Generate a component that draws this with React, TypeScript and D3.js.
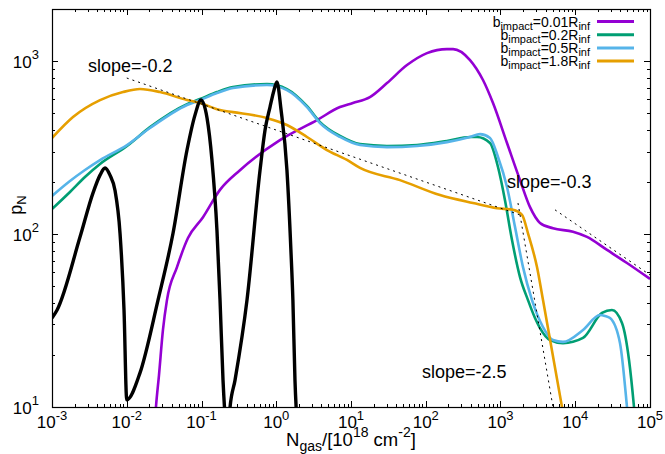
import * as d3 from "d3";

type Pt = [number, number];

const X_DOMAIN: [number, number] = [1e-3, 1e5];
const Y_DOMAIN: [number, number] = [10, 2000];
const X_DECADES = [-3, -2, -1, 0, 1, 2, 3, 4, 5];
const Y_DECADES = [1, 2, 3];
const MINOR_MULTS = [2, 3, 4, 5, 6, 7, 8, 9];

const SERIES_LABELS = ["0.01", "0.2", "0.5", "1.8"];
const SERIES_COLORS = ["#9400d3", "#009e73", "#56b4e9", "#e69f00"];

// b_impact = 0.01 R_inf
const purpleCurve: Pt[] = [
  [0.0239, 8.4], [0.0246, 10], [0.027, 15.3], [0.0305, 27.9], [0.0345, 41.5],
  [0.047, 64.4], [0.0659, 94.8], [0.1047, 125], [0.1766, 180], [0.327, 234],
  [1.12, 349], [3.51, 456], [7.12, 542], [10.6, 572], [17.9, 619], [30.3, 746],
  [56.1, 948], [104, 1112], [192, 1173], [232, 1173], [391, 1014], [583, 777],
  [794, 572], [1222, 336], [1824, 205], [2483, 143], [3377, 116], [5037, 108],
  [9330, 103], [14360, 96.2], [26600, 80.9], [49200, 68], [1e5, 55],
];

// b_impact = 0.2 R_inf
const greenCurve: Pt[] = [
  [1e-3, 139.5], [1.74e-3, 175], [2.76e-3, 213.5], [4.39e-3, 254], [0.01008, 323],
  [0.02047, 415], [0.064, 564], [0.0955, 603], [0.161, 662], [0.264, 707],
  [0.752, 736], [1.39, 689], [2.58, 549], [3.85, 444], [7.13, 369], [13.2, 331],
  [30.3, 323], [76.4, 327], [192, 345], [391, 364], [485, 364], [724, 336],
  [926, 244], [1148, 157], [1425, 92.3], [1824, 56.4], [2333, 41.5], [2894, 32.7],
  [3376, 28.6], [4594, 24.4], [6857, 23.4], [12700, 25.1], [22800, 35],
  [31000, 36.4], [42200, 30.6], [52400, 18.7], [61100, 10], [65000, 7.4],
];

// b_impact = 0.5 R_inf
const blueCurve: Pt[] = [
  [1e-3, 165.9], [1.74e-3, 202.5], [2.76e-3, 234.5], [4.39e-3, 267.7], [0.01008, 326.9],
  [0.02047, 410], [0.064, 557], [0.0955, 595], [0.161, 653], [0.264, 698],
  [0.752, 727], [1.39, 680], [2.58, 542], [3.85, 438], [7.13, 364], [13.2, 327],
  [30.3, 318], [76.4, 323], [192, 340], [391, 364], [532, 378], [724, 359],
  [926, 279], [1222, 187], [1563, 110], [2000, 64.4], [2639, 41.5], [3703, 29],
  [5039, 24.4], [6857, 23.8], [12700, 27.9], [21400, 34], [25000, 33.6],
  [29200, 32.7], [39700, 23.4], [49200, 10], [52400, 7.4],
];

// b_impact = 1.8 R_inf
const orangeCurve: Pt[] = [
  [1e-3, 359], [1.91e-3, 475], [4.39e-3, 595], [8.91e-3, 662], [0.01504, 689],
  [0.02785, 662], [0.064, 595], [0.0955, 572], [0.1766, 521], [0.264, 507],
  [0.752, 468], [1.39, 427], [2.58, 364], [4.77, 306], [8.84, 268], [13.2, 241],
  [45.2, 205], [155, 168], [429, 151], [898, 141], [1470, 138], [1940, 129],
  [2333, 101], [3078, 64.4], [3703, 41.5], [6648, 10], [7300, 7.9],
];

// narrow black peaks
const blackCurve: Pt[] = [
  [1e-3, 32.7], [1.17e-3, 36.4], [2.37e-3, 96], [3.54e-3, 173], [4.39e-3, 219],
  [5.12e-3, 241], [5.97e-3, 219], [6.96e-3, 179], [8.13e-3, 101], [9.2e-3, 36],
  [0.01, 11], [0.015, 15.7], [0.0262, 41.5], [0.0416, 101], [0.064, 306],
  [0.0818, 487], [0.0984, 596], [0.1186, 469], [0.138, 268], [0.161, 105],
  [0.177, 41.5], [0.194, 14.3], [0.206, 9], [0.223, 6], [0.24, 9.8], [0.281, 14.3],
  [0.406, 41.5], [0.607, 234], [0.708, 399], [0.825, 542], [0.933, 679],
  [1.02, 757], [1.16, 521], [1.39, 234], [1.57, 81], [1.67, 41.5], [1.78, 14.3],
  [1.9, 8],
];

const slopeLines: Pt[][] = [
  [[0.01, 798], [1824, 129]],
  [[5360, 138], [1e5, 58]],
  [[1714, 151], [5037, 10]],
];

const slopeLabels = ["slope=-0.2", "slope=-0.3", "slope=-2.5"];
const slopeLabelAt: Pt[] = [[3.03e-3, 863], [1222, 184], [89, 14.7]];

const FONT = "'Liberation Sans', Arial, Helvetica, sans-serif";

export default function App() {
  const width = 665;
  const height = 454;
  const left = 52;
  const right = 650;
  const top = 9;
  const bottom = 407;

  const x = d3.scaleLog().domain(X_DOMAIN).range([left, right]);
  const y = d3.scaleLog().domain(Y_DOMAIN).range([bottom, top]);
  const line = d3
    .line<Pt>()
    .x((d) => x(d[0]))
    .y((d) => y(d[1]))
    .curve(d3.curveMonotoneX);
  const straight = d3
    .line<Pt>()
    .x((d) => x(d[0]))
    .y((d) => y(d[1]));

  const xMinor = X_DECADES.slice(0, -1).flatMap((d) => MINOR_MULTS.map((m) => m * 10 ** d));
  const yMinor = [1, 2, 3]
    .flatMap((d) => MINOR_MULTS.map((m) => m * 10 ** d))
    .filter((v) => v < Y_DOMAIN[1]);

  const curves = [purpleCurve, greenCurve, blueCurve, orangeCurve];

  return (
    <svg
      width={width}
      height={height}
      style={{ position: "fixed", left: 0, top: 0, background: "#fff" }}
      fontFamily={FONT}
    >
      <defs>
        <clipPath id="plot-clip">
          <rect x={left} y={top} width={right - left} height={bottom - top} />
        </clipPath>
      </defs>
      <rect width={width} height={height} fill="#fff" />

      {/* ticks, mirrored on all four sides */}
      <g stroke="#000" strokeWidth={1}>
        {X_DECADES.map((d) => {
          const px = Math.round(x(10 ** d)) + 0.5;
          return (
            <g key={`xt${d}`}>
              <line x1={px} x2={px} y1={bottom} y2={bottom - 6} />
              <line x1={px} x2={px} y1={top} y2={top + 6} />
            </g>
          );
        })}
        {xMinor.map((v, i) => {
          const px = Math.round(x(v)) + 0.5;
          return (
            <g key={`xm${i}`}>
              <line x1={px} x2={px} y1={bottom} y2={bottom - 3} />
              <line x1={px} x2={px} y1={top} y2={top + 3} />
            </g>
          );
        })}
        {Y_DECADES.map((d) => {
          const py = Math.round(y(10 ** d)) + 0.5;
          return (
            <g key={`yt${d}`}>
              <line x1={left} x2={left + 6} y1={py} y2={py} />
              <line x1={right} x2={right - 6} y1={py} y2={py} />
            </g>
          );
        })}
        {yMinor.map((v, i) => {
          const py = Math.round(y(v)) + 0.5;
          return (
            <g key={`ym${i}`}>
              <line x1={left} x2={left + 3} y1={py} y2={py} />
              <line x1={right} x2={right - 3} y1={py} y2={py} />
            </g>
          );
        })}
      </g>

      {/* curves */}
      <g clipPath="url(#plot-clip)" fill="none" strokeLinejoin="round">
        {curves.map((c, i) => (
          <path key={i} d={line(c) ?? ""} stroke={SERIES_COLORS[i]} strokeWidth={2.6} />
        ))}
        <path d={line(blackCurve) ?? ""} stroke="#000" strokeWidth={3.4} />
        {slopeLines.map((s, i) => (
          <path key={`s${i}`} d={straight(s) ?? ""} stroke="#000" strokeWidth={1} strokeDasharray="2,4" />
        ))}
      </g>

      <rect
        x={left + 0.5}
        y={top + 0.5}
        width={right - left}
        height={bottom - top}
        fill="none"
        stroke="#000"
        strokeWidth={1.2}
      />

      {/* tick labels */}
      <g fontSize={17} fill="#000">
        {X_DECADES.map((d) => (
          <text key={`xl${d}`} x={x(10 ** d)} y={428} textAnchor="middle">
            10
            <tspan dy={-8} fontSize={13}>
              {d}
            </tspan>
          </text>
        ))}
        {Y_DECADES.map((d) => (
          <text key={`yl${d}`} x={39} y={y(10 ** d) + 7} textAnchor="end">
            10
            <tspan dy={-9} fontSize={13}>
              {d}
            </tspan>
          </text>
        ))}
      </g>

      {/* axis labels */}
      <text x={351} y={446} textAnchor="middle" fontSize={18.5}>
        N
        <tspan dy={5} fontSize={14}>gas</tspan>
        <tspan dy={-5}>/[10</tspan>
        <tspan dy={-9} fontSize={14}>18</tspan>
        <tspan dy={9}>{" cm"}</tspan>
        <tspan dy={-9} fontSize={14}>-2</tspan>
        <tspan dy={9}>]</tspan>
      </text>
      <text transform="translate(22,205) rotate(-90)" textAnchor="middle" fontSize={18}>
        p<tspan dy={4} fontSize={13}>N</tspan>
      </text>

      {/* slope annotations */}
      {slopeLabels.map((t, i) => (
        <text key={t} x={x(slopeLabelAt[i][0])} y={y(slopeLabelAt[i][1])} fontSize={18}>
          {t}
        </text>
      ))}

      {/* legend */}
      <g fontSize={14}>
        {SERIES_LABELS.map((lab, i) => {
          const by = 26.5 + i * 13.2;
          return (
            <g key={lab}>
              <text x={590} y={by} textAnchor="end">
                b<tspan dy={3} fontSize={11}>impact</tspan>
                <tspan dy={-3}>{`=${lab}R`}</tspan>
                <tspan dy={3} fontSize={11}>inf</tspan>
              </text>
              <line x1={597} x2={634} y1={by - 5} y2={by - 5} stroke={SERIES_COLORS[i]} strokeWidth={3} />
            </g>
          );
        })}
      </g>
    </svg>
  );
}
